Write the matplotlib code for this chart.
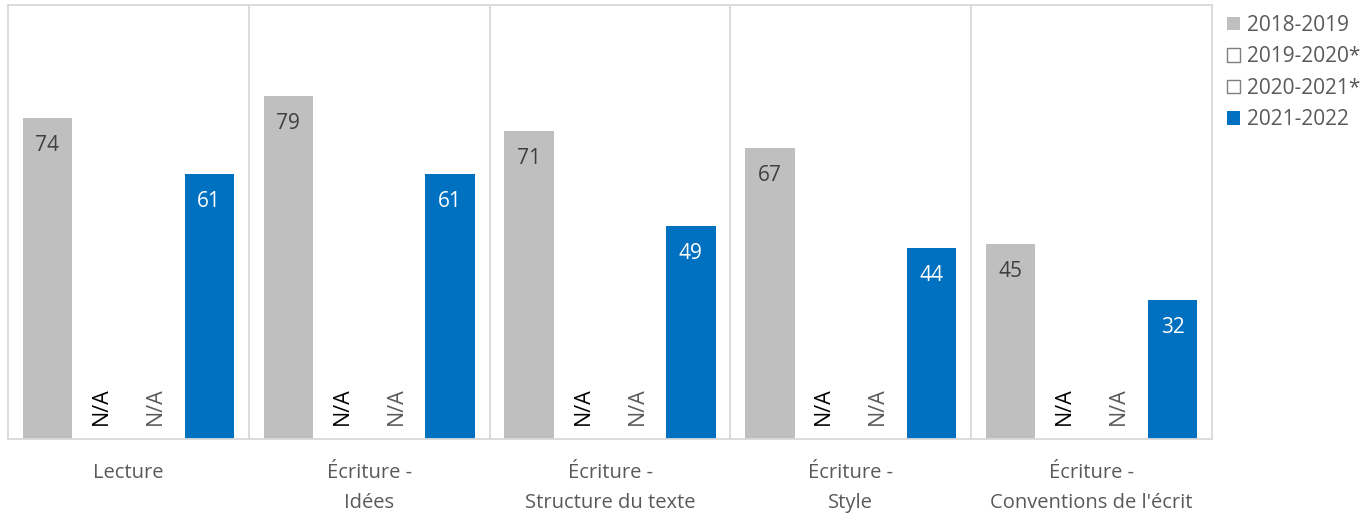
import numpy as np
import matplotlib
matplotlib.use("Agg")
import matplotlib.pyplot as plt

categories = ["Lecture", "Écriture -\nIdées", "Écriture -\nStructure du texte",
              "Écriture -\nStyle", "Écriture -\nConventions de l'écrit"]
series_names = ["2018-2019", "2019-2020*", "2020-2021*", "2021-2022"]
vals_2018 = [74, 79, 71, 67, 45]
vals_2019 = [np.nan] * 5   # N/A
vals_2020 = [np.nan] * 5   # N/A
vals_2021 = [61, 61, 49, 44, 32]

plt.rcParams["font.family"] = ["Open Sans", "DejaVu Sans"]
FS = 14.5
TXT = "#595959"
GRID = "#d9d9d9"

fig = plt.figure(figsize=(13.65, 5.15), dpi=100)
ax = fig.add_axes([8 / 1365, 1 - 439 / 515, (1212 - 8) / 1365, (439 - 5) / 515])

x = np.arange(len(categories))
w = 0.205
offsets = [-0.336, -0.112, 0.112, 0.336]
styles = [dict(color="#bfbfbf"),
          dict(facecolor="white", edgecolor="#7f7f7f"),
          dict(facecolor="white", edgecolor="#7f7f7f"),
          dict(color="#0070c0")]
all_vals = [vals_2018, vals_2019, vals_2020, vals_2021]

handles = []
for vals, off, st, name in zip(all_vals, offsets, styles, series_names):
    b = ax.bar(x + off, vals, w, label=name, **st)
    handles.append(b)

for i in x:
    ax.text(i + offsets[0], vals_2018[i] - 6.3, str(vals_2018[i]), ha="center", va="center",
            fontsize=15, color="#404040")
    ax.text(i + offsets[3], vals_2021[i] - 6.3, str(vals_2021[i]), ha="center", va="center",
            fontsize=15, color="white")
    ax.text(i + offsets[1], 3.2, "N/A", rotation=90, ha="center", va="bottom",
            fontsize=15.5, color="black")
    ax.text(i + offsets[2], 3.2, "N/A", rotation=90, ha="center", va="bottom",
            fontsize=15.5, color=TXT)

ax.set_xlim(-0.5, len(categories) - 0.5)
ax.set_ylim(0, 100)
ax.set_yticks([])
ax.set_xticks(x)
ax.set_xticklabels(categories, fontsize=FS, color=TXT, linespacing=1.7)
ax.tick_params(axis="x", length=0, pad=17)
for s in ax.spines.values():
    s.set_color(GRID)
    s.set_linewidth(1.3)
for b in x[:-1] + 0.5:
    ax.axvline(b, color=GRID, lw=1.3, zorder=0)

fig.legend(handles=handles, labels=series_names, loc="upper left",
           bbox_to_anchor=(1227 / 1365, 1 - 15 / 515), frameon=False, fontsize=15,
           handlelength=0.6, handleheight=0.6, handletextpad=0.35,
           labelspacing=0.5, labelcolor=TXT, borderaxespad=0, borderpad=0)

fig.savefig("out.png", dpi=100)
